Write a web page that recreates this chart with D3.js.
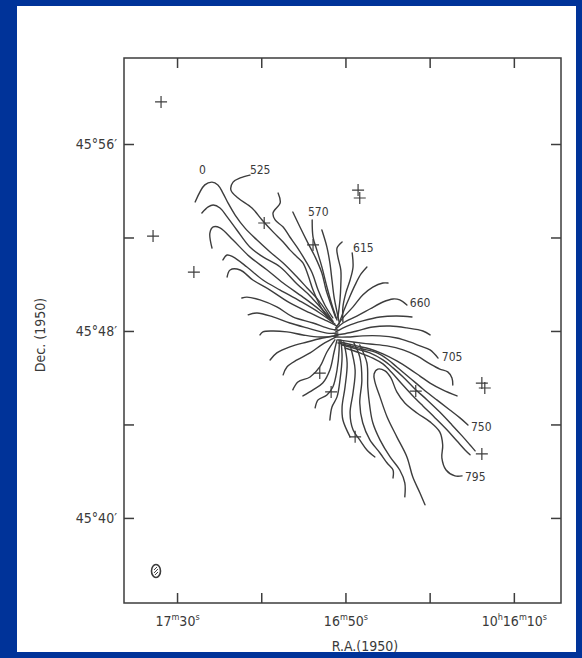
<!DOCTYPE html>
<html>
<head>
<meta charset="utf-8">
<script src="https://cdn.jsdelivr.net/npm/d3@7"></script>
<style>
body { margin: 0; background: #003399; }
svg { display: block; }
text { font-family: "DejaVu Sans Condensed", "DejaVu Sans", sans-serif; fill: #3a3a3a; }
</style>
</head>
<body>
<svg id="chart" width="582" height="658"></svg>
<script>
// RA in seconds after 10h16m, Dec in arcmin after 45 deg (1950)
var raTicks = [90, 70, 50, 30, 10];
var raTickLabels = ["17^m30^s", "", "16^m50^s", "", "10^h16^m10^s"];
var decTicks = [56, 52, 48, 44, 40];
var decTickLabels = ["45°56′", "", "45°48′", "", "45°40′"];

// isovelocity contours (km/s), north / east branches
var c525 = [[72.7,54.67],[75.0,54.55],[76.7,54.37],[77.2,54.03],[75.5,53.69],[72.2,53.26],[69.8,52.75],[67.2,52.24],[64.8,51.81],[63.2,51.47],[61.5,51.17],[60.1,50.91],[58.9,50.40],[57.7,49.75],[56.1,49.11],[54.2,48.56]];
var c540 = [[66.0,53.90],[65.5,53.48],[67.2,53.05],[66.7,52.75],[64.8,52.45],[63.2,52.02],[61.5,51.59],[59.6,51.04],[57.9,50.48],[56.5,49.75],[54.9,49.11],[53.0,48.56]];
var c555 = [[62.5,53.09],[60.8,52.45],[58.9,51.76],[57.2,51.17],[55.6,50.48],[54.6,49.75],[53.4,49.11],[52.3,48.56]];
var c570 = [[57.9,52.75],[57.7,52.02],[56.8,51.47],[55.6,50.74],[54.4,49.88],[53.2,49.11],[52.0,48.47]];
var c585 = [[55.6,52.32],[54.4,51.59],[53.7,50.91],[53.2,50.18],[52.7,49.45],[52.0,48.81],[51.5,48.39]];
var c600 = [[50.8,51.81],[52.0,51.55],[51.8,51.17],[51.1,50.61],[51.1,49.97],[51.3,49.33],[51.8,48.56]];
var c615 = [[48.4,51.34],[48.2,50.74],[48.9,50.18],[49.9,49.63],[50.6,49.03],[50.6,48.39]];
var c630 = [[44.9,50.74],[46.3,50.44],[47.7,49.97],[49.2,49.37],[50.6,48.77],[51.6,48.26]];
var c645 = [[39.9,50.05],[41.1,50.05],[43.5,49.88],[45.9,49.54],[48.2,49.03],[50.6,48.56],[52.3,48.13]];
var c660 = [[35.4,49.11],[37.1,49.33],[38.7,49.37],[41.1,49.24],[44.2,48.94],[47.3,48.64],[50.6,48.34],[52.5,48.04]];
var c675 = [[34.2,48.60],[37.8,48.64],[41.8,48.60],[45.9,48.43],[49.6,48.21],[52.3,47.96]];
var c690 = [[29.9,47.83],[31.6,48.00],[35.4,48.13],[39.4,48.21],[43.5,48.17],[47.3,48.00],[50.6,47.87],[52.5,47.83]];
var c705 = [[28.0,46.84],[29.9,47.19],[32.3,47.36],[34.7,47.53],[37.8,47.70],[41.8,47.79],[45.9,47.79],[49.6,47.74],[52.5,47.74]];
var c720 = [[24.5,45.69],[24.7,45.99],[25.7,46.25],[27.6,46.37],[29.9,46.59],[33.0,46.93],[36.3,47.19],[40.1,47.36],[44.2,47.44],[48.2,47.53],[51.8,47.62]];
var c735 = [[23.5,45.22],[26.9,45.48],[29.9,45.77],[32.3,46.07],[34.7,46.37],[37.8,46.72],[41.1,47.02],[44.2,47.23],[47.3,47.36],[51.3,47.53]];
var c750 = [[20.9,43.98],[22.8,44.28],[25.2,44.62],[28.3,45.05],[31.6,45.52],[34.7,45.99],[37.8,46.46],[40.1,46.80],[42.5,47.06],[45.9,47.23],[48.9,47.36],[51.8,47.49]];
var c765 = [[19.2,42.87],[20.4,43.12],[22.3,43.51],[24.7,43.98],[27.6,44.53],[30.6,45.05],[33.5,45.52],[36.3,46.03],[38.7,46.42],[41.1,46.76],[44.2,47.06],[47.3,47.23],[50.8,47.40]];
var c780 = [[20.4,42.70],[21.6,42.91],[23.5,43.29],[25.9,43.77],[28.7,44.28],[31.6,44.79],[34.2,45.26],[36.8,45.77],[38.9,46.20],[41.1,46.59],[43.5,46.84],[46.6,47.06],[50.1,47.27]];
var c795 = [[22.3,41.80],[24.0,41.80],[26.1,42.05],[27.1,42.57],[26.9,43.12],[27.6,43.68],[29.9,44.11],[33.0,44.49],[35.9,44.92],[37.8,45.39],[39.2,45.99],[40.6,46.29],[42.3,46.37],[43.2,46.16],[43.0,45.82],[41.8,45.18],[40.1,44.32],[37.8,43.47],[35.4,42.61],[34.0,41.75],[32.3,41.07],[31.1,40.56]];

// west branches of the same contours
var westArcs = [
  [[85.7,53.52],[83.4,54.25],[81.7,54.37],[80.3,54.25],[79.1,53.90],[77.9,53.48],[76.2,52.96],[73.9,52.41],[71.0,51.89],[67.9,51.38],[64.8,50.91],[61.5,50.31],[59.1,49.84],[56.5,49.33],[54.4,48.81],[53.0,48.39]],
  [[84.1,53.05],[82.6,53.31],[81.4,53.39],[79.8,53.26],[78.1,52.88],[75.8,52.32],[72.7,51.59],[69.6,51.17],[65.5,50.74],[61.5,50.01],[58.4,49.50],[55.6,48.94],[53.0,48.43]],
  [[81.7,51.55],[82.2,52.19],[81.4,52.45],[79.8,52.41],[76.7,51.89],[72.7,51.17],[68.6,50.61],[64.8,50.05],[60.1,49.45],[56.1,48.90],[53.0,48.39]],
  [[79.1,51.04],[78.1,51.25],[76.7,51.17],[73.4,50.74],[69.6,50.18],[65.5,49.75],[60.8,49.28],[56.1,48.77],[52.5,48.30]],
  [[78.1,50.31],[77.4,50.61],[75.0,50.61],[72.0,50.18],[67.9,49.75],[63.2,49.20],[58.4,48.77],[54.4,48.43],[52.0,48.21]],
  [[74.6,49.41],[73.4,49.45],[70.3,49.33],[66.3,49.03],[62.5,48.60],[57.7,48.34],[53.7,48.09],[51.8,48.04]],
  [[73.1,48.69],[71.0,48.77],[67.2,48.60],[63.2,48.34],[59.1,48.13],[54.4,47.91],[51.8,47.91]],
  [[70.3,47.83],[69.6,47.96],[67.4,48.00],[63.9,47.96],[60.1,47.83],[56.1,47.74],[51.8,47.79]]
];

// south branches
var southArcs = [
  [[67.9,46.76],[66.3,47.06],[63.2,47.32],[59.1,47.53],[55.4,47.70],[51.8,47.83]],
  [[64.8,46.12],[63.9,46.46],[61.5,46.76],[58.4,47.06],[55.4,47.44],[52.3,47.74]],
  [[62.5,45.48],[61.3,45.82],[58.4,46.03],[56.1,46.46],[54.4,47.10],[52.5,47.62]],
  [[60.1,45.22],[57.7,45.48],[55.4,45.77],[53.7,46.33],[52.7,47.10],[52.0,47.62]],
  [[57.2,44.71],[56.5,45.05],[54.4,45.26],[53.0,45.60],[52.0,46.33],[51.5,47.19],[51.5,47.62]],
  [[53.7,44.19],[53.2,44.75],[52.0,45.18],[51.3,45.90],[50.8,46.89],[51.1,47.62]],
  [[48.9,43.47],[50.6,44.19],[50.8,44.75],[50.1,45.60],[49.6,46.63],[50.4,47.53]],
  [[43.0,42.61],[44.9,42.91],[46.6,43.34],[48.2,43.77],[48.9,44.49],[48.2,45.35],[47.7,46.33],[48.9,47.40]],
  [[38.7,41.71],[38.7,42.05],[40.1,42.35],[41.8,42.78],[44.2,43.34],[45.9,44.07],[46.6,44.92],[46.1,45.90],[46.6,46.89],[48.0,47.49]],
  [[35.9,40.90],[35.9,41.50],[37.1,42.05],[39.4,42.61],[41.8,43.34],[43.5,44.07],[44.2,44.75],[44.7,45.60],[44.9,46.63],[46.6,47.40]]
];

var contourLabels = ["0", "525", "570", "615", "660", "705", "750", "795"];
var labelRA = [84.8, 72.7, 58.9, 48.2, 34.7, 27.1, 20.2, 21.6];
var labelDec = [54.89, 54.89, 53.09, 51.55, 49.20, 46.89, 43.89, 41.75];

// background stars (crosses)
var starRA = [93.8, 95.7, 86.0, 47.0, 46.6, 69.3, 57.7, 56.1, 53.4, 47.7, 33.3, 17.6, 16.9, 17.6];
var starDec = [57.80, 52.06, 50.52, 54.03, 53.69, 52.62, 51.68, 46.20, 45.39, 43.47, 45.43, 45.77, 45.56, 42.74];

// beam
var beamRA = [95.0];
var beamDec = [37.73];

var frame = {left: 124, right: 561, top: 58, bottom: 603};
var ink = "#3d3d3d";

var svg = d3.select("#chart");
svg.append("rect")
  .attr("x", 17).attr("y", 6).attr("width", 559).attr("height", 646)
  .attr("fill", "#ffffff");

var x = d3.scaleLinear().domain([102.6, -1.2]).range([frame.left, frame.right]);
var y = d3.scaleLinear().domain([59.68, 36.36]).range([frame.top, frame.bottom]);

// frame
svg.append("rect")
  .attr("x", frame.left).attr("y", frame.top)
  .attr("width", frame.right - frame.left).attr("height", frame.bottom - frame.top)
  .attr("fill", "none").attr("stroke", ink).attr("stroke-width", 1.5);

// tick labels with raised h / m / s
function sup(sel, labels, ticks) {
  sel.selectAll(".tick text").each(function(d) {
    var t = d3.select(this);
    var lab = labels[ticks.indexOf(d)];
    t.text(null).attr("dy", null).attr("y", 23);
    var parts = lab.split(/(\^.)/).filter(function(p) { return p.length; });
    var raised = false;
    parts.forEach(function(p) {
      if (p[0] === "^") {
        t.append("tspan").attr("dy", -6).attr("font-size", 9).text(p[1]);
        raised = true;
      } else {
        t.append("tspan").attr("dy", raised ? 6 : 0).text(p);
        raised = false;
      }
    });
  });
}

var xAxisGroup = svg.append("g")
  .attr("class", "xAxis")
  .attr("transform", "translate(0," + frame.bottom + ")");
xAxisGroup.call(d3.axisBottom(x).tickValues(raTicks).tickSize(-10).tickSizeOuter(0).tickPadding(9));
sup(xAxisGroup, raTickLabels, raTicks);

var xTop = svg.append("g").attr("transform", "translate(0," + frame.top + ")");
xTop.call(d3.axisTop(x).tickValues(raTicks).tickSize(-10).tickSizeOuter(0).tickFormat(""));

var yAxisGroup = svg.append("g")
  .attr("class", "yAxis")
  .attr("transform", "translate(" + frame.left + ",0)");
yAxisGroup.call(d3.axisLeft(y).tickValues(decTicks).tickSize(-10).tickSizeOuter(0).tickPadding(7)
  .tickFormat(function(d) { return decTickLabels[decTicks.indexOf(d)]; }));

var yRight = svg.append("g").attr("transform", "translate(" + frame.right + ",0)");
yRight.call(d3.axisRight(y).tickValues(decTicks).tickSize(-10).tickSizeOuter(0).tickFormat(""));

svg.selectAll(".domain").remove();
svg.selectAll(".tick line").attr("stroke", ink).attr("stroke-width", 1.5);
svg.selectAll(".tick text").attr("fill", ink).attr("font-size", 14);

// axis titles
svg.append("text")
  .attr("x", 365).attr("y", 651)
  .attr("text-anchor", "middle").attr("font-size", 14)
  .text("R.A.(1950)");
svg.append("text")
  .attr("transform", "translate(45,335) rotate(-90)")
  .attr("text-anchor", "middle").attr("font-size", 14)
  .text("Dec. (1950)");

// contours
var line = d3.line()
  .x(function(d) { return x(d[0]); })
  .y(function(d) { return y(d[1]); })
  .curve(d3.curveCatmullRom.alpha(0.5));

var contours = [c525, c540, c555, c570, c585, c600, c615, c630, c645, c660, c675, c690,
  c705, c720, c735, c750, c765, c780, c795].concat(westArcs, southArcs);

svg.append("g")
  .selectAll("path")
  .data(contours)
  .enter()
  .append("path")
  .attr("d", line)
  .attr("fill", "none")
  .attr("stroke", ink)
  .attr("stroke-width", 1.4)
  .attr("stroke-linejoin", "round")
  .attr("stroke-linecap", "round");

// contour labels
svg.append("g")
  .selectAll("text")
  .data(contourLabels)
  .enter()
  .append("text")
  .attr("x", function(d, i) { return x(labelRA[i]); })
  .attr("y", function(d, i) { return y(labelDec[i]); })
  .attr("dy", "0.35em")
  .attr("font-size", 12)
  .text(function(d) { return d; });

// stars
var stars = starRA.map(function(r, i) { return [r, starDec[i]]; });
svg.append("g")
  .selectAll("path")
  .data(stars)
  .enter()
  .append("path")
  .attr("d", function(d) {
    var cx = x(d[0]), cy = y(d[1]);
    return "M" + (cx - 6) + "," + cy + "H" + (cx + 6) + "M" + cx + "," + (cy - 6) + "V" + (cy + 6);
  })
  .attr("stroke", ink)
  .attr("stroke-width", 1.2);

// beam
var beam = svg.append("g")
  .selectAll("g")
  .data(beamRA)
  .enter()
  .append("g")
  .attr("transform", function(d, i) { return "translate(" + x(d) + "," + y(beamDec[i]) + ")"; });
beam.append("ellipse").attr("rx", 4.5).attr("ry", 6.5)
  .attr("fill", "none").attr("stroke", ink).attr("stroke-width", 1.6);
beam.append("path").attr("d", "M-2,2L2,-2M-2,-1L1,-4M-1,4L2,1")
  .attr("stroke", ink).attr("stroke-width", 1);
</script>
</body>
</html>
